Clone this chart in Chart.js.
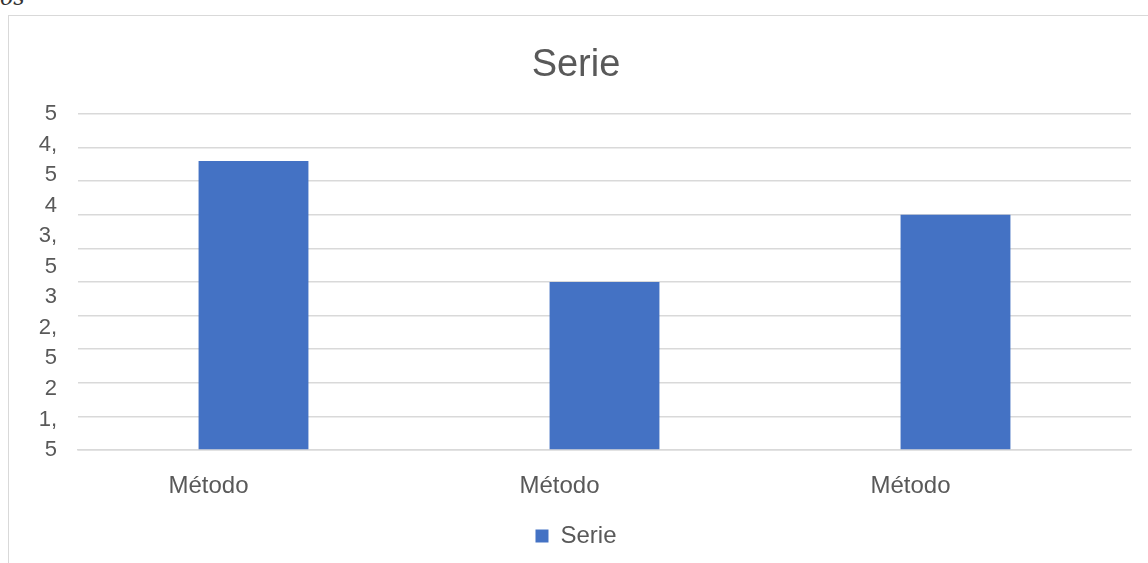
<!DOCTYPE html>
<html>
<head>
<meta charset="utf-8">
<script src="https://cdn.jsdelivr.net/npm/chart.js@4"></script>
<style>
  html, body { margin: 0; padding: 0; background: #fff; overflow: hidden; }
  #frame { position: absolute; left: 8px; top: 15px; width: 1300px; height: 700px; border: 1px solid #d9d9d9; }
  #frag { position: absolute; left: 0; top: -15px; font: italic 22px "DejaVu Serif", serif; color: #333; }
  #wrap { position: absolute; left: 0; top: 0; width: 1148px; height: 563px; }
</style>
</head>
<body>
<div id="frag">os</div>
<div id="frame"></div>
<div id="wrap"><canvas id="c" width="1148" height="563"></canvas></div>
<script>
// data
const categories = ["Método", "Método", "Método"];
const serieValues = [4.3, 2.5, 3.5];
// axis text as it shows in the picture (wrapped, overflowing labels)
const yTickText = ["5", "4,", "5", "4", "3,", "5", "3", "2,", "5", "2", "1,", "5"];

const textColor = "#595959";
const font = "'Liberation Sans', Arial, sans-serif";

new Chart(document.getElementById("c"), {
  type: "bar",
  data: {
    labels: categories,
    datasets: [{
      label: "Serie",
      data: serieValues,
      backgroundColor: "#4472C4",
      barPercentage: 0.313,
      categoryPercentage: 1,
      yAxisID: "y"
    }]
  },
  options: {
    responsive: false,
    animation: false,
    layout: { padding: { top: 43, right: 17, left: 21, bottom: 5 } },
    plugins: {
      title: {
        display: true,
        text: "Serie",
        color: textColor,
        font: { family: font, size: 38, weight: "normal", lineHeight: 1.2 },
        padding: { top: 0, bottom: 25.4 }
      },
      legend: {
        position: "bottom",
        labels: {
          color: textColor,
          font: { family: font, size: 24 },
          boxWidth: 13,
          boxHeight: 13,
          padding: 10
        }
      },
      tooltip: { enabled: false }
    },
    scales: {
      x: {
        grid: { display: false, drawTicks: false },
        border: { display: true, color: "#d9d9d9", width: 1.5 },
        ticks: { color: textColor, font: { family: font, size: 24 }, padding: 22, labelOffset: -45 },
        afterFit(scale) { scale.height = 64; }
      },
      y: {
        type: "linear",
        position: "left",
        weight: 0,
        min: 0,
        max: 5,
        grid: { color: "#d9d9d9", lineWidth: 1.5, drawTicks: false },
        border: { display: false },
        ticks: { display: false, stepSize: 0.5 },
        afterFit(scale) { scale.width = 0; }
      },
      yText: {
        type: "category",
        position: "left",
        weight: 1,
        labels: yTickText,
        offset: false,
        grid: { display: false, drawTicks: false },
        border: { display: false },
        ticks: {
          color: textColor,
          font: { family: font, size: 22 },
          padding: 21,
          autoSkip: false
        },
        afterFit(scale) { scale.width = 57; }
      }
    }
  }
});
</script>
</body>
</html>
